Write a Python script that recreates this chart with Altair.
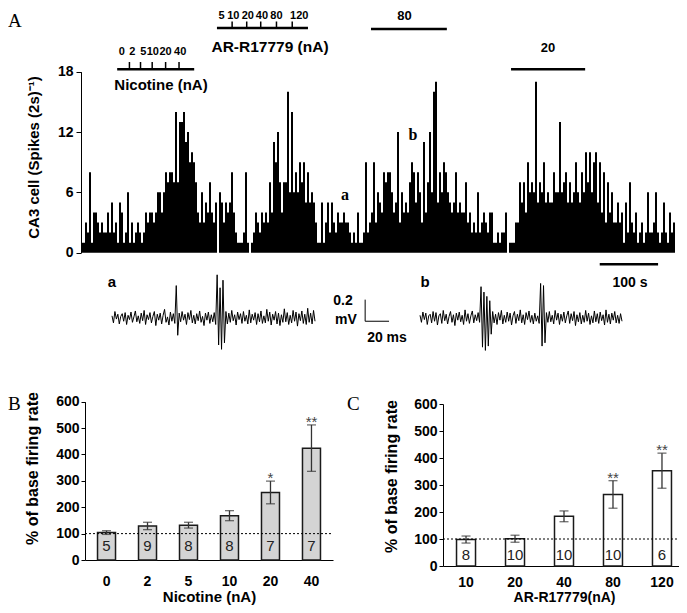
import altair as alt
import pandas as pd

SANS = "Liberation Sans"
SERIF = "Liberation Serif"

# ------------------------------------------------------------------ data
# Panel A: CA3 firing-rate histogram (spikes per bin), read left to right
spike_counts = [
    1, 1, 3, 2, 8, 1, 4, 4, 3, 2,
    3, 2, 2, 4, 2, 5, 2, 3, 1, 5,
    4, 1, 2, 6, 1, 3, 1, 2, 3, 2,
    1, 2, 4, 3, 4, 4, 3, 4, 6, 6,
    4, 6, 8, 7, 8, 8, 7, 14, 7, 13,
    13, 14, 11, 12, 9, 10, 9, 7, 4, 3,
    6, 3, 5, 4, 7, 4, 3, 5, 0, 6,
    5, 3, 5, 4, 5, 8, 4, 2, 1, 1,
    1, 2, 8, 1, 0, 1, 2, 4, 3, 2,
    4, 3, 4, 3, 7, 4, 11, 9, 12, 7,
    4, 7, 7, 16, 6, 14, 6, 8, 6, 9,
    7, 9, 5, 8, 5, 6, 5, 3, 1, 1,
    5, 1, 3, 5, 2, 5, 3, 2, 4, 3,
    3, 4, 3, 3, 2,
    1, 2, 1, 4, 1, 1, 2, 9, 2, 3,
    4, 9, 3, 6, 5, 4, 8, 7, 8, 8,
    6, 4, 5, 12, 3, 6, 4, 5, 4, 7,
    9, 8, 5, 8, 6, 3, 11, 4, 7, 12,
    6, 16, 17, 5, 8, 6, 9, 8, 6, 5,
    4, 5, 8, 4, 5, 4, 4, 7, 3, 4,
    2, 3, 2, 6, 2, 3, 4, 3, 2, 4,
    4, 1, 1, 2, 1, 2, 2, 4, 0, 1,
    1, 1, 3, 3, 7, 5, 7, 4, 9, 6,
    7, 6, 17, 5, 7, 6, 9, 5, 6, 5,
    5, 8, 6, 6, 13, 6, 7, 8, 5, 7,
    5, 6, 9, 6, 5, 8, 6, 10, 7, 10,
    6, 9, 10, 5, 9, 4, 8, 3, 7, 4,
    6, 3, 3, 5, 3, 4, 1, 5, 2, 7,
    3, 2, 4, 1, 2, 3, 1, 2, 6, 2,
    2, 3, 6, 2, 1, 2, 5, 2, 1, 4,
    2, 3,
]
recording_seconds = 1018
hist_ticks = [0, 6, 12, 18]

# drug applications (seconds from start of record)
nicotine_window = [62, 194]
nicotine_step_times = [83, 102, 122, 145, 168]
nicotine_step_labels = ["0", "2", "5", "10", "20", "40"]
nicotine_label_times = [70, 88, 107, 123, 145, 170]
ar_window = [233, 389]
ar_step_times = [259, 284, 308, 335, 362]
ar_step_labels = ["5", "10", "20", "40", "80", "120"]
ar_label_times = [241, 261, 286, 310, 335, 374]
ar80_window = [497, 627]
ar20_window = [737, 864]
time_scale_bar = [889, 989]  # 100 s

# sample traces (microvolts), 170 ms each
trace_ms = 170
trace_a_uv = [
    20, -45, 60, -10, 35, -55, 15, 40, -30, 50,
    -60, 25, -15, 55, -40, 10, 65, -35, 20, -50,
    45, -25, 70, -60, 30, -15, 50, -45, 15, 60,
    -70, 35, -20, 45, -55, 25, 80, -40, 10, -65,
    55, -30, 40, -50, 300, -160, 45, -35, 60, -20,
    35, -60, 50, -15, 70, -45, 25, -55, 40, -25,
    65, -40, 15, -70, 45, -20, 55, -50, 30, -35,
    50, -60, 400, -250, 280, -290, 350, -230, 60, -55,
    45, -40, 70, -25, 30, -65, 55, -15, 40, -50,
    60, -30, 25, -55, 75, -45, 35, -20, 50, -60,
    40, -35, 65, -50, 20, -45, 80, -30, 55, -65,
    35, -20, 60, -55, 45, -70, 30, -40, 85, -35,
    50, -60, 25, -45, 70, -30, 55, -75, 40, -25,
    65, -50, 35, -60, 90, -40, 45, -55, 70, -30,
]
trace_b_uv = [
    25, -40, 55, -15, 45, -60, 20, 35, -45, 60,
    -30, 50, -65, 20, 40, -50, 70, -25, 35, -55,
    15, 60, -40, 30, -70, 45, -20, 55, -35, 25,
    -60, 75, -30, 40, -50, 20, 65, -45, 30, -25,
    50, -40, 290, -270, 240, -300, 200, -260, 160, -150,
    60, -45, 35, -60, 50, -20, 70, -55, 25, -40,
    55, -30, 45, -65, 20, 60, -50, 35, -25, 75,
    -45, 30, -60, 50, -15, 65, -40, 25, -55, 45,
    -30, 20, -50, 320, -260, 300, -230, 50, -40, 60,
    -35, 25, -55, 70, -20, 45, -60, 35, -30, 55,
    -45, 20, 65, -50, 40, -25, 60, -70, 30, -35,
    50, -55, 25, -40, 70, -30, 45, -60, 20, -45,
    65, -35, 40, -50, 55, -25, 30, -65, 75, -40,
    35, -55, 45, -20, 60, -45, 25, -50, 40, -30,
]
scale_bar_ms = 20
scale_bar_uv = 200

# Panel B: nicotine
nicotine_doses = ["0", "2", "5", "10", "20", "40"]
nicotine_rate = [104, 129, 132, 168, 256, 424]
nicotine_sem = [7, 14, 11, 19, 43, 88]
nicotine_n = ["5", "9", "8", "8", "7", "7"]
nicotine_sig = ["", "", "", "", "*", "**"]

# Panel C: AR-R17779
ar_doses = ["10", "20", "40", "80", "120"]
ar_rate = [98, 101, 184, 265, 353]
ar_sem = [13, 13, 20, 51, 65]
ar_n = ["8", "10", "10", "10", "6"]
ar_sig = ["", "", "", "**", "**"]

baseline_pct = [100]
pct_ticks = [0, 100, 200, 300, 400, 500, 600]

# ------------------------------------------------------------------ layout
W, H = 671, 597


def px(v):
    """page pixel -> chart pixel"""
    return v - 8


def txt(s, x, y, size=13, weight="bold", font=SANS, align="center", color="black"):
    return alt.Chart(pd.DataFrame({"s": [s]})).mark_text(
        font=font, fontSize=size, fontWeight=weight, align=align,
        baseline="middle", color=color,
    ).encode(x=alt.value(px(x)), y=alt.value(px(y)), text="s:N")


layers = []

# ---------------- Panel A histogram
n_bins = len(spike_counts)
bin_s = recording_seconds / n_bins
hist_df = pd.DataFrame({
    "t0": [i * bin_s for i in range(n_bins)],
    "t1": [(i + 1) * bin_s for i in range(n_bins)],
    "n": spike_counts,
    "zero": [0] * n_bins,
})
hx = alt.Scale(domain=[0, recording_seconds], range=[px(81), px(675)], nice=False, zero=False)
hy = alt.Scale(domain=[0, 18], range=[px(252.7), px(71.7)], nice=False, zero=False)

hist_axis = alt.Axis(
    orient="left", offset=-px(81), values=hist_ticks, grid=False,
    title="CA3 cell (Spikes (2s)⁻¹)", titleFont=SANS, titleFontSize=15,
    titleFontWeight="bold", titleColor="black", titlePadding=16, titleY=px(157),
    labelFont=SANS, labelFontSize=14, labelFontWeight="bold", labelColor="black",
    labelPadding=3, labelFlush=False, tickSize=5, tickColor="black",
    domainColor="black",
)
layers.append(
    alt.Chart(hist_df).mark_rect(color="black").encode(
        x=alt.X("t0:Q", scale=hx, axis=None),
        x2="t1:Q",
        y=alt.Y("n:Q", scale=hy, axis=hist_axis),
        y2="zero:Q",
    )
)


def hbar(window, y, width=2.5):
    df = pd.DataFrame({"a": [window[0]], "b": [window[1]]})
    return alt.Chart(df).mark_rule(color="black", strokeWidth=width).encode(
        x=alt.X("a:Q", scale=hx, axis=None), x2="b:Q", y=alt.value(px(y))
    )


def step_ticks(times, y_top, y_bot):
    return alt.Chart(pd.DataFrame({"t": times})).mark_rule(color="black", strokeWidth=1.5).encode(
        x=alt.X("t:Q", scale=hx, axis=None), y=alt.value(px(y_top)), y2=alt.value(px(y_bot))
    )


def step_labels(times, labels, y, size=11):
    df = pd.DataFrame({"t": times, "lab": labels})
    return alt.Chart(df).mark_text(font=SANS, fontSize=size, fontWeight="bold", baseline="middle").encode(
        x=alt.X("t:Q", scale=hx, axis=None), y=alt.value(px(y)), text="lab:N"
    )


layers += [
    hbar(nicotine_window, 69.3),
    step_ticks(nicotine_step_times, 62, 69.3),
    step_labels(nicotine_label_times, nicotine_step_labels, 52),
    txt("Nicotine (nA)", 161, 85, size=15),
    hbar(ar_window, 28),
    step_ticks(ar_step_times, 21.5, 28),
    step_labels(ar_label_times, ar_step_labels, 15.5),
    txt("AR-R17779 (nA)", 270, 46.5, size=15.5),
    hbar(ar80_window, 29),
    txt("80", 404.5, 15.5, size=13),
    hbar(ar20_window, 69.3),
    txt("20", 548, 48.3, size=13),
    hbar(time_scale_bar, 264.3, width=2.5),
    txt("100 s", 630, 283, size=14),
    txt("a", 345, 195, size=16, font=SERIF),
    txt("b", 413, 135, size=16, font=SERIF),
    txt("A", 8, 21, size=19, weight="normal", font=SERIF, align="left"),
]

# ---------------- traces
tay = alt.Scale(domain=[-400, 400], range=[px(318 + 43.2), px(318 - 43.2)], nice=False, zero=False)
tax = alt.Scale(domain=[0, trace_ms], range=[px(112), px(315)], nice=False, zero=False)
tbx = alt.Scale(domain=[0, trace_ms], range=[px(420), px(622)], nice=False, zero=False)


def trace(values, xscale):
    n = len(values)
    df = pd.DataFrame({"t": [i * trace_ms / (n - 1) for i in range(n)], "v": values})
    return alt.Chart(df).mark_line(color="black", strokeWidth=1).encode(
        x=alt.X("t:Q", scale=xscale, axis=None),
        y=alt.Y("v:Q", scale=tay, axis=None),
    )


bar_t0, bar_v0 = 212, -30
layers += [
    trace(trace_a_uv, tax),
    trace(trace_b_uv, tbx),
    alt.Chart(pd.DataFrame({"t": [bar_t0], "v0": [bar_v0], "v1": [bar_v0 + scale_bar_uv]}))
    .mark_rule(color="black", strokeWidth=1)
    .encode(x=alt.X("t:Q", scale=tax, axis=None), y=alt.Y("v0:Q", scale=tay, axis=None), y2="v1:Q"),
    alt.Chart(pd.DataFrame({"t0": [bar_t0], "t1": [bar_t0 + scale_bar_ms], "v": [bar_v0]}))
    .mark_rule(color="black", strokeWidth=1)
    .encode(x=alt.X("t0:Q", scale=tax, axis=None), x2="t1:Q", y=alt.Y("v:Q", scale=tay, axis=None)),
    txt("a", 112, 282, size=15),
    txt("b", 425, 282, size=15),
    txt("0.2", 343, 301, size=14),
    txt("mV", 346, 320, size=14),
    txt("20 ms", 387, 338, size=14),
]


# ---------------- bar panels
def y_axis(x_page, title, tp, title_y_page):
    return alt.Axis(
        orient="left", offset=-px(x_page), values=pct_ticks, grid=False,
        title=title, titleFont=SANS, titleFontSize=16, titleFontWeight="bold",
        titleColor="black", titlePadding=tp, titleY=px(title_y_page),
        labelFont=SANS, labelFontSize=14, labelFontWeight="bold", labelColor="black",
        labelPadding=2, labelFlush=False, tickSize=4, tickColor="black",
        domainColor="black",
    )


def x_axis(y_page, title, lp, tp, tsize):
    return alt.Axis(
        orient="bottom", offset=-(H - px(y_page)), ticks=False, tickSize=0,
        labelAngle=0, title=title, titleFont=SANS, titleFontSize=tsize,
        titleFontWeight="bold", titleColor="black", titlePadding=tp,
        labelFont=SANS, labelFontSize=14, labelFontWeight="bold", labelColor="black",
        labelPadding=lp, domainColor="black",
    )


def bar_panel(doses, rate, sem, n, sig, xr, y0_page, y600_page, pad_in, pad_out, size, fill,
              xtitle, x_axis_pad, x_title_pad, x_title_size, n_y_page, title_pad, title_y_page,
              line_end_page):
    df = pd.DataFrame({"dose": doses, "rate": rate, "sem": sem, "n": n, "sig": sig})
    df["lo"] = df["rate"] - df["sem"]
    df["hi"] = df["rate"] + df["sem"]
    bx = alt.Scale(type="band", domain=doses, range=[px(xr[0]), px(xr[1])],
                   paddingInner=pad_in, paddingOuter=pad_out)
    by = alt.Scale(domain=[0, 600], range=[px(y0_page), px(y600_page)], nice=False, zero=False)
    base = alt.Chart(df)
    xn = alt.X("dose:N", scale=bx, axis=None)
    out = [
        base.mark_bar(size=size, fill=fill, stroke="#1a1a1a", strokeWidth=1.5).encode(
            x=alt.X("dose:N", scale=bx,
                    axis=x_axis(y0_page, xtitle, x_axis_pad, x_title_pad, x_title_size)),
            y=alt.Y("rate:Q", scale=by,
                    axis=y_axis(xr[0], "% of base firing rate", title_pad, title_y_page)),
        ),
        alt.Chart(pd.DataFrame({"ref": baseline_pct})).mark_rule(
            color="black", strokeWidth=1, strokeDash=[2, 2]
        ).encode(
            x=alt.value(px(xr[0])), x2=alt.value(px(line_end_page)),
            y=alt.Y("ref:Q", scale=by, axis=None),
        ),
        base.mark_rule(color="#333333", strokeWidth=1.3).encode(
            x=xn, y=alt.Y("lo:Q", scale=by, axis=None), y2="hi:Q"
        ),
        base.mark_tick(color="#333333", thickness=1.3, size=9).encode(
            x=xn, y=alt.Y("hi:Q", scale=by, axis=None)
        ),
        base.mark_tick(color="#333333", thickness=1.3, size=9).encode(
            x=xn, y=alt.Y("lo:Q", scale=by, axis=None)
        ),
        base.mark_text(font=SANS, fontSize=15, color="#444444", baseline="alphabetic", dy=2).encode(
            x=xn, y=alt.Y("hi:Q", scale=by, axis=None), text="sig:N"
        ),
        base.mark_text(font=SANS, fontSize=15, color="#222222", baseline="middle").encode(
            x=xn, y=alt.value(px(n_y_page)), text="n:N"
        ),
    ]
    return out


layers += bar_panel(nicotine_doses, nicotine_rate, nicotine_sem, nicotine_n, nicotine_sig,
                    xr=[85, 333], y0_page=560, y600_page=401.7, pad_in=0.55, pad_out=0.3,
                    size=18, fill="#d4d4d4", xtitle="Nicotine (nA)", x_axis_pad=14,
                    x_title_pad=1, x_title_size=15, n_y_page=546, title_pad=15,
                    title_y_page=468, line_end_page=333)
layers.append(txt("B", 8, 404, size=19, weight="normal", font=SERIF, align="left"))

layers += bar_panel(ar_doses, ar_rate, ar_sem, ar_n, ar_sig,
                    xr=[443, 685], y0_page=566, y600_page=404, pad_in=0.6, pad_out=0.27,
                    size=19, fill="white", xtitle="AR-R17779(nA)", x_axis_pad=9,
                    x_title_pad=1, x_title_size=14, n_y_page=555, title_pad=14,
                    title_y_page=476, line_end_page=687)
layers.append(txt("C", 347, 404, size=19, weight="normal", font=SERIF, align="left"))

chart = alt.layer(*layers).resolve_scale(
    x="independent", y="independent"
).properties(
    width=W, height=H, padding=0, autosize=alt.AutoSizeParams(type="none")
).configure_view(stroke=None)

chart.save("out.html", embed_options={"renderer": "svg", "actions": False})
